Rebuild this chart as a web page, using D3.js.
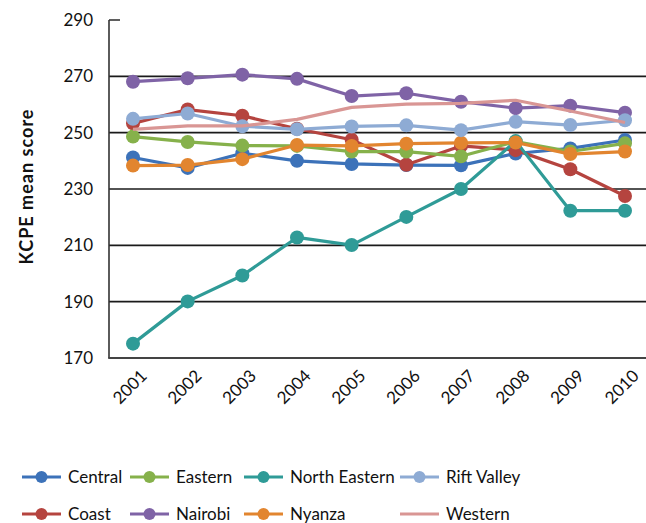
<!DOCTYPE html>
<html>
<head>
<meta charset="utf-8">
<script src="https://cdn.jsdelivr.net/npm/d3@7"></script>
<style>
  html, body { margin: 0; padding: 0; background: #fff; }
  svg { display: block; font-family: Lato, "Open Sans", sans-serif; }
</style>
</head>
<body>
<svg id="chart" width="646" height="523"></svg>
<script>
// KCPE mean score by province, 2001–2010
const years = ["2001","2002","2003","2004","2005","2006","2007","2008","2009","2010"];
const yTicks = [170, 190, 210, 230, 250, 270, 290];

const central      = [241.2, 237.5, 242.7, 240.0, 238.9, 238.5, 238.4, 242.6, 244.4, 247.4];
const coast        = [253.3, 258.2, 256.0, 251.4, 247.5, 238.6, 245.3, 243.8, 237.0, 227.5];
const eastern      = [248.6, 246.7, 245.4, 245.3, 243.3, 243.3, 241.6, 246.8, 243.3, 246.2];
const nairobi      = [268.1, 269.3, 270.6, 269.1, 263.0, 264.0, 261.0, 258.7, 259.6, 257.1];
const northEastern = [175.1, 190.1, 199.3, 212.8, 210.1, 220.1, 230.0, 247.0, 222.3, 222.3];
const nyanza       = [238.3, 238.5, 240.6, 245.6, 245.3, 246.1, 246.4, 246.5, 242.4, 243.3];
const riftValley   = [254.9, 256.8, 252.3, 251.2, 252.2, 252.6, 250.9, 253.9, 252.7, 254.4];
const western      = [251.2, 252.4, 252.4, 254.7, 259.0, 260.1, 260.4, 261.5, 257.7, 253.6];

const seriesNames  = ["Central","Coast","Eastern","Nairobi","North Eastern","Nyanza","Rift Valley","Western"];
const seriesValues = [central, coast, eastern, nairobi, northEastern, nyanza, riftValley, western];
const seriesColors = ["#3c72b9","#b5443f","#86b14b","#7f63a6","#2f9b97","#e2852f","#8eabd4","#d99694"];
const seriesMarker = [true, true, true, true, true, true, true, false];

// legend layout: two rows, four columns
const legendOrder = ["Central","Eastern","North Eastern","Rift Valley","Coast","Nairobi","Nyanza","Western"];

const svg = d3.select("#chart");

const x = d3.scalePoint().domain(years).range([133, 625]);
const y = d3.scaleLinear().domain([170, 290]).range([358, 20]);
const plotLeft = 109, plotRight = 646;

// horizontal gridlines
svg.append("g")
  .selectAll("line")
  .data(yTicks.filter(t => t > 170 && t < 290))
  .join("line")
  .attr("x1", plotLeft).attr("x2", plotRight)
  .attr("y1", d => y(d)).attr("y2", d => y(d))
  .attr("stroke", "#1a1a1a").attr("stroke-width", 1.6);

// short tick at the top of the value axis
svg.append("line")
  .attr("x1", plotLeft).attr("x2", plotLeft + 11)
  .attr("y1", y(290)).attr("y2", y(290))
  .attr("stroke", "#1a1a1a").attr("stroke-width", 1.4);

// value axis line
svg.append("line")
  .attr("x1", plotLeft).attr("x2", plotLeft)
  .attr("y1", y(290)).attr("y2", y(170))
  .attr("stroke", "#333").attr("stroke-width", 1.6);

// category axis line
svg.append("line")
  .attr("x1", plotLeft - 0.8).attr("x2", plotRight)
  .attr("y1", y(170)).attr("y2", y(170))
  .attr("stroke", "#444").attr("stroke-width", 2);

// value tick labels
svg.append("g")
  .selectAll("text")
  .data(yTicks)
  .join("text")
  .attr("x", 93)
  .attr("y", d => y(d))
  .attr("dy", "0.35em")
  .attr("text-anchor", "end")
  .attr("font-size", 17)
  .attr("fill", "#111")
  .text(d => d);

// year labels, rotated
svg.append("g")
  .selectAll("text")
  .data(years)
  .join("text")
  .attr("transform", d => `translate(${x(d) + 15},${377}) rotate(-45)`)
  .attr("text-anchor", "end")
  .attr("font-size", 17)
  .attr("fill", "#111")
  .text(d => d);

// axis title
svg.append("text")
  .attr("transform", `translate(33,187) rotate(-90)`)
  .attr("text-anchor", "middle")
  .attr("font-size", 18)
  .attr("font-weight", "bold")
  .attr("textLength", 155)
  .attr("lengthAdjust", "spacing")
  .attr("fill", "#111")
  .text("KCPE mean score");

// series lines and markers
const line = d3.line().x((d, i) => x(years[i])).y(d => y(d));
seriesNames.forEach((name, k) => {
  const g = svg.append("g").attr("class", "series");
  g.append("path")
    .datum(seriesValues[k])
    .attr("d", line)
    .attr("fill", "none")
    .attr("stroke", seriesColors[k])
    .attr("stroke-width", 3.2)
    .attr("stroke-linejoin", "round");
  if (seriesMarker[k]) {
    g.selectAll("circle")
      .data(seriesValues[k])
      .join("circle")
      .attr("cx", (d, i) => x(years[i]))
      .attr("cy", d => y(d))
      .attr("r", 7)
      .attr("fill", seriesColors[k]);
  }
});

// legend
const legendCols = [22, 130, 244, 400];
const legendRows = [477, 514];
legendOrder.forEach((name, j) => {
  const k = seriesNames.indexOf(name);
  const lx = legendCols[j % 4], ly = legendRows[Math.floor(j / 4)];
  const g = svg.append("g").attr("transform", `translate(${lx},${ly})`);
  g.append("line")
    .attr("x1", 0).attr("x2", 39)
    .attr("stroke", seriesColors[k]).attr("stroke-width", 3.2);
  if (seriesMarker[k]) {
    g.append("circle").attr("cx", 19.5).attr("r", 6).attr("fill", seriesColors[k]);
  }
  g.append("text")
    .attr("x", 46)
    .attr("dy", "0.35em")
    .attr("font-size", 17)
    .attr("fill", "#111")
    .text(name);
});
</script>
</body>
</html>
